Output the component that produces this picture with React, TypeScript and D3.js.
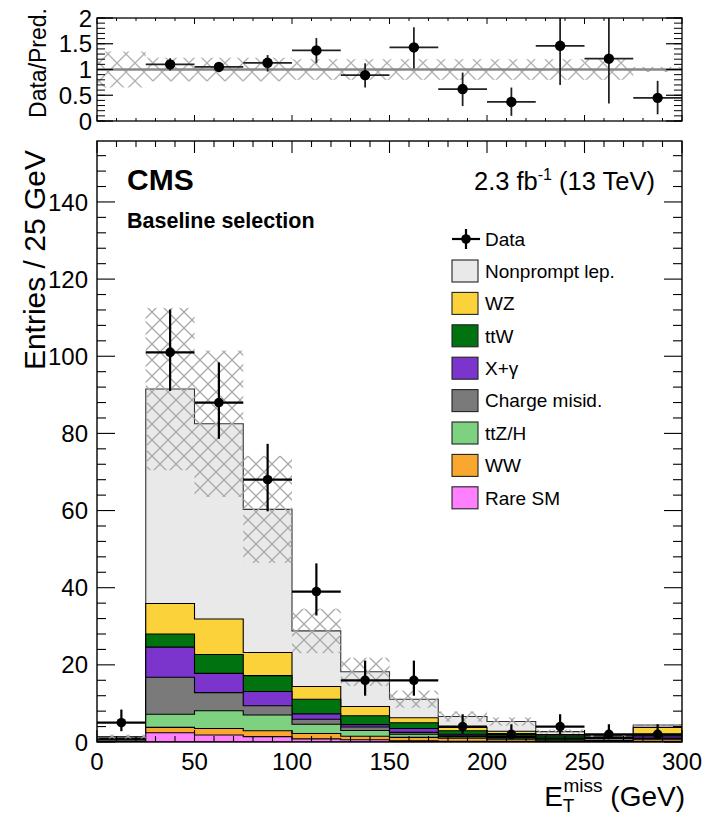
import React from "react";
import * as d3 from "d3";

const binLow = [0, 25, 50, 75, 100, 125, 150, 175, 200, 225, 250, 275];
const binWidth = 25;

const rareSM = [0.05, 2.4, 1.8, 1.4, 0.8, 0.6, 0.3, 0.2, 0.1, 0.1, 0.05, 0.2];
const ww = [0.05, 1.4, 1.7, 1.5, 1.4, 0.9, 0.9, 0.8, 0.5, 0.2, 0.15, 0.5];
const ttZH = [0.1, 3.4, 4.6, 4.1, 2.4, 1.5, 0.8, 0.4, 0.4, 0.3, 0.2, 0.1];
const chargeMisid = [0.4, 9.6, 4.7, 2.4, 1.3, 0.9, 0.5, 0.2, 0.2, 0.2, 0.5, 0.2];
const xGamma = [0.1, 7.8, 5.0, 3.7, 1.4, 0.6, 1.0, 0.4, 0.2, 0.2, 0.05, 0.6];
const ttW = [0.2, 3.4, 4.9, 4.1, 3.8, 2.3, 1.5, 0.9, 0.8, 0.6, 0.25, 0.4];
const wz = [0.1, 7.9, 9.2, 6.0, 3.3, 2.4, 1.3, 0.9, 0.6, 0.3, 0.1, 1.8];
const nonprompt = [0.4, 55.6, 50.6, 37.1, 14.4, 9.0, 4.8, 2.8, 2.5, 0.8, 0.35, 0.6];

const dataCounts = [5, 101, 88, 68, 39, 16, 16, 4, 2, 4, 2, 2];
const dataErrUp = [3.4, 11.1, 10.4, 9.3, 7.3, 5.1, 5.1, 3.2, 2.6, 3.2, 2.6, 2.6];
const dataErrDown = [2.2, 10.0, 9.4, 8.2, 6.2, 4.0, 4.0, 1.9, 1.3, 1.9, 1.3, 1.3];

const relUnc = [0.35, 0.23, 0.23, 0.23, 0.2, 0.2, 0.2, 0.2, 0.2, 0.2, 0.2, 0.05];

const ratioVal: (number | null)[] = [null, 1.1, 1.05, 1.13, 1.37, 0.89, 1.43, 0.62, 0.37, 1.46, 1.21, 0.45];
const ratioErrUp = [0, 0.12, 0.09, 0.15, 0.24, 0.23, 0.39, 0.32, 0.28, 0.8, 0.9, 0.33];
const ratioErrDown = [0, 0.12, 0.1, 0.17, 0.25, 0.24, 0.41, 0.33, 0.27, 0.76, 0.87, 0.32];

const layerNames = ["Rare SM", "WW", "ttZ/H", "Charge misid.", "X+\u03b3", "ttW", "WZ", "Nonprompt lep."];
const layerValues = [rareSM, ww, ttZH, chargeMisid, xGamma, ttW, wz, nonprompt];
const layerColors = ["#ff80ff", "#faa72f", "#7dd181", "#7a7a7a", "#7b35cc", "#00720f", "#fcd23a", "#e9e9e9"];

const legendOrder = ["Nonprompt lep.", "WZ", "ttW", "X+\u03b3", "Charge misid.", "ttZ/H", "WW", "Rare SM"];

const xTicks = [0, 50, 100, 150, 200, 250, 300];
const yTicks = [0, 20, 40, 60, 80, 100, 120, 140];
const ratioTicks = [0, 0.5, 1, 1.5, 2];

const FONT = "'Liberation Sans', Arial, Helvetica, sans-serif";

export default function App() {
  const W = 706, H = 815;
  const left = 97, right = 682;
  const mainTop = 141, mainBottom = 742;
  const rTop = 18, rBottom = 121;

  const x = d3.scaleLinear().domain([0, 300]).range([left, right]);
  const y = d3.scaleLinear().domain([0, 155.8]).range([mainBottom, mainTop]);
  const yr = d3.scaleLinear().domain([0, 2]).range([rBottom, rTop]);

  const cum: number[][] = [];
  layerValues.forEach((vals, i) => {
    cum.push(vals.map((v, b) => v + (i > 0 ? cum[i - 1][b] : 0)));
  });
  const total = cum[cum.length - 1];

  const stepPath = (vals: number[]) => {
    let p = `M${x(0)},${y(0)}`;
    vals.forEach((v, b) => {
      p += `L${x(binLow[b])},${y(v)}L${x(binLow[b] + binWidth)},${y(v)}`;
    });
    p += `L${x(300)},${y(0)}Z`;
    return p;
  };

  const xMinor = d3.range(0, 301, 10);
  const yMinor = d3.range(0, 156, 4);
  const rMinor = d3.range(0, 2.001, 0.1);

  return (
    <svg width={W} height={H} style={{ position: "absolute", left: 0, top: 0, background: "#fff" }} fontFamily={FONT}>
      <defs>
        <pattern id="hatch" patternUnits="userSpaceOnUse" width={16} height={16}>
          <path d="M0,0L16,16M16,0L0,16" stroke="#a8a8a8" strokeWidth={1.3} fill="none" />
        </pattern>
        <pattern id="hatchR" patternUnits="userSpaceOnUse" width={18} height={18}>
          <path d="M0,0L18,18M18,0L0,18" stroke="#b0b0b0" strokeWidth={1.3} fill="none" />
        </pattern>
        <clipPath id="mainClip">
          <rect x={left} y={mainTop} width={right - left} height={mainBottom - mainTop} />
        </clipPath>
        <clipPath id="ratioClip">
          <rect x={left} y={rTop} width={right - left} height={rBottom - rTop} />
        </clipPath>
      </defs>
      <rect x={0} y={0} width={W} height={H} fill="#fff" />

      {/* ===== Ratio panel ===== */}
      <g clipPath="url(#ratioClip)">
        {binLow.map((lo, b) => (
          <rect key={"rb" + b} x={x(lo)} width={x(lo + binWidth) - x(lo)}
            y={yr(1 + relUnc[b])} height={yr(1 - relUnc[b]) - yr(1 + relUnc[b])} fill="url(#hatchR)" />
        ))}
        <line x1={left} x2={right} y1={yr(1)} y2={yr(1)} stroke="#888" strokeWidth={2.4} />
        {binLow.map((lo, b) => {
          const v = ratioVal[b];
          if (v == null) return null;
          const cx = x(lo + binWidth / 2);
          return (
            <g key={"rp" + b}>
              <line x1={x(lo)} x2={x(lo + binWidth)} y1={yr(v)} y2={yr(v)} stroke="#222" strokeWidth={1.8} />
              <line x1={cx} x2={cx} y1={yr(v + ratioErrUp[b])} y2={yr(v - ratioErrDown[b])} stroke="#222" strokeWidth={1.8} />
              <circle cx={cx} cy={yr(v)} r={5.2} fill="#000" />
            </g>
          );
        })}
      </g>
      <rect x={left} y={rTop} width={right - left} height={rBottom - rTop} fill="none" stroke="#000" strokeWidth={1.3} />
      {ratioTicks.map((t) => (
        <g key={"rt" + t}>
          <line x1={left} x2={left + 16} y1={yr(t)} y2={yr(t)} stroke="#000" strokeWidth={1.2} />
          <line x1={right} x2={right - 16} y1={yr(t)} y2={yr(t)} stroke="#000" strokeWidth={1.2} />
          <text x={92} y={yr(t)} dy="0.36em" textAnchor="end" fontSize={24}>{t}</text>
        </g>
      ))}
      {rMinor.map((t, i) => (
        <g key={"rm" + i}>
          <line x1={left} x2={left + 8} y1={yr(t)} y2={yr(t)} stroke="#000" strokeWidth={1} />
          <line x1={right} x2={right - 8} y1={yr(t)} y2={yr(t)} stroke="#000" strokeWidth={1} />
        </g>
      ))}
      {xMinor.map((t) => {
        const major = t % 50 === 0;
        const len = major ? 6 : 3;
        return (
          <g key={"rx" + t}>
            <line x1={x(t)} x2={x(t)} y1={rBottom} y2={rBottom - len} stroke="#000" strokeWidth={1} />
            <line x1={x(t)} x2={x(t)} y1={rTop} y2={rTop + len} stroke="#000" strokeWidth={1} />
          </g>
        );
      })}
      <text transform={`translate(46,8) rotate(-90)`} textAnchor="end" fontSize={23}>Data/Pred.</text>

      {/* ===== Main panel ===== */}
      <g clipPath="url(#mainClip)">
        {cum.slice().reverse().map((vals, ri) => {
          const i = cum.length - 1 - ri;
          return (
            <path key={"st" + i} d={stepPath(vals)} fill={layerColors[i]}
              stroke={i === cum.length - 1 ? "#333" : "#000"} strokeWidth={1.1} />
          );
        })}
        {binLow.map((lo, b) => (
          <rect key={"hb" + b} x={x(lo)} width={x(lo + binWidth) - x(lo)}
            y={y(total[b] * (1 + relUnc[b]))}
            height={y(total[b] * (1 - relUnc[b])) - y(total[b] * (1 + relUnc[b]))} fill="url(#hatch)" />
        ))}
        {binLow.map((lo, b) => {
          const v = dataCounts[b];
          const cx = x(lo + binWidth / 2);
          return (
            <g key={"dp" + b}>
              <line x1={x(lo)} x2={x(lo + binWidth)} y1={y(v)} y2={y(v)} stroke="#000" strokeWidth={2.2} />
              <line x1={cx} x2={cx} y1={y(v + dataErrUp[b])} y2={y(v - dataErrDown[b])} stroke="#000" strokeWidth={2.2} />
              <circle cx={cx} cy={y(v)} r={4.8} fill="#000" />
            </g>
          );
        })}
      </g>
      <rect x={left} y={mainTop} width={right - left} height={mainBottom - mainTop} fill="none" stroke="#000" strokeWidth={1.4} />
      {yMinor.map((t) => {
        const major = t % 20 === 0;
        const len = major ? 18 : 9;
        return (
          <g key={"ym" + t}>
            <line x1={left} x2={left + len} y1={y(t)} y2={y(t)} stroke="#000" strokeWidth={1.1} />
            <line x1={right} x2={right - len} y1={y(t)} y2={y(t)} stroke="#000" strokeWidth={1.1} />
          </g>
        );
      })}
      {yTicks.map((t) => (
        <text key={"yl" + t} x={88} y={y(t)} dy="0.36em" textAnchor="end" fontSize={24}>{t}</text>
      ))}
      {xMinor.map((t) => {
        const major = t % 50 === 0;
        const len = major ? 12 : 6;
        return (
          <g key={"xm" + t}>
            <line x1={x(t)} x2={x(t)} y1={mainBottom} y2={mainBottom - len} stroke="#000" strokeWidth={1.1} />
            <line x1={x(t)} x2={x(t)} y1={mainTop} y2={mainTop + len} stroke="#000" strokeWidth={1.1} />
          </g>
        );
      })}
      {xTicks.map((t) => (
        <text key={"xl" + t} x={x(t)} y={770} textAnchor="middle" fontSize={24}>{t}</text>
      ))}

      <text transform={`translate(45,150) rotate(-90)`} textAnchor="end" fontSize={30}>Entries / 25 GeV</text>
      <text x={685} y={806} textAnchor="end" fontSize={28}>
        E<tspan fontSize={19} dy={6}>T</tspan><tspan fontSize={19} dx={-11} dy={-20}>miss</tspan><tspan dy={14}> (GeV)</tspan>
      </text>

      <text x={127} y={190} fontSize={30} fontWeight="bold">CMS</text>
      <text x={655} y={190} textAnchor="end" fontSize={25.5}>
        2.3 fb<tspan fontSize={16} dy={-10}>-1</tspan><tspan dy={10}> (13 TeV)</tspan>
      </text>
      <text x={127} y={228} fontSize={21.5} fontWeight="bold">Baseline selection</text>

      <g>
        <line x1={452} x2={480} y1={239} y2={239} stroke="#000" strokeWidth={2.2} />
        <line x1={466} x2={466} y1={229} y2={249} stroke="#000" strokeWidth={2.2} />
        <circle cx={466} cy={239} r={4.8} fill="#000" />
        <text x={485} y={239} dy="0.36em" fontSize={19}>Data</text>
        {legendOrder.map((name, k) => {
          const i = layerNames.indexOf(name);
          const cy = 271 + k * 32.4;
          return (
            <g key={"lg" + k}>
              <rect x={452} y={cy - 11} width={26} height={22} fill={layerColors[i]} stroke="#222" strokeWidth={1.1} />
              <text x={485} y={cy} dy="0.36em" fontSize={19}>{name}</text>
            </g>
          );
        })}
      </g>
    </svg>
  );
}
